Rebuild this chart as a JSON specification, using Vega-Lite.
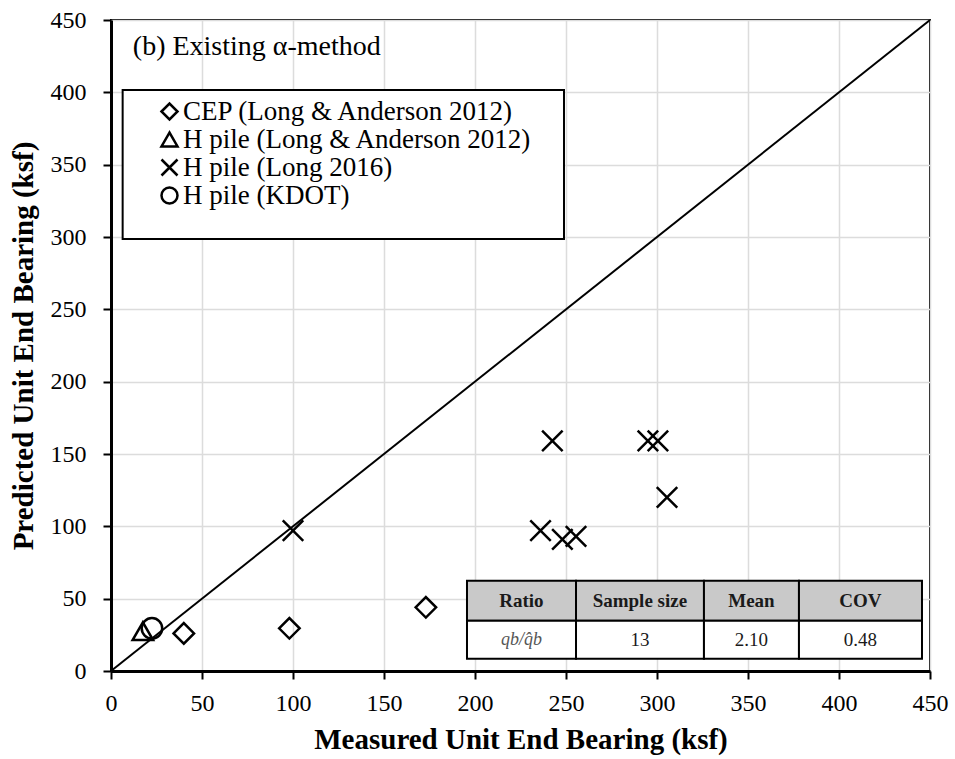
{
  "$schema": "https://vega.github.io/schema/vega-lite/v6.json",
  "width": 819,
  "height": 651,
  "autosize": {"type": "none"},
  "padding": {"left": 111, "top": 20, "right": 25, "bottom": 88},
  "background": "white",
  "config": {
    "view": {"stroke": "black", "strokeWidth": 2},
    "font": "Liberation Serif",
    "axis": {
      "grid": true,
      "gridColor": "#dcdcdc",
      "gridWidth": 1.5,
      "domainColor": "black",
      "domainWidth": 3,
      "tickColor": "black",
      "tickWidth": 2,
      "tickSize": 8,
      "labelFont": "Liberation Serif",
      "labelFontSize": 24,
      "labelColor": "black",
      "labelFlush": false,
      "labelOverlap": false,
      "titleFont": "Liberation Serif",
      "titleFontSize": 29,
      "titleFontWeight": "bold",
      "titleColor": "black"
    },
    "axisX": {"labelPadding": 12, "titlePadding": 10},
    "axisY": {"labelPadding": 17, "titlePadding": 12},
    "legend": {
      "orient": "none",
      "legendX": 45,
      "legendY": 78,
      "padding": 0,
      "labelFont": "Liberation Serif",
      "labelFontSize": 27,
      "labelColor": "black",
      "labelOffset": 0,
      "labelLimit": 600,
      "rowPadding": 0,
      "symbolSize": 256,
      "symbolStrokeWidth": 2.5,
      "symbolStrokeColor": "black",
      "symbolFillColor": "transparent"
    }
  },
  "datasets": {
    "points": [
      {"source": "CEP (Long & Anderson 2012)", "measured": 40, "predicted": 26},
      {"source": "CEP (Long & Anderson 2012)", "measured": 98, "predicted": 29.5},
      {"source": "CEP (Long & Anderson 2012)", "measured": 173, "predicted": 44},
      {"source": "H pile (Long & Anderson 2012)", "measured": 17.5, "predicted": 27.5},
      {"source": "H pile (Long 2016)", "measured": 100, "predicted": 97},
      {"source": "H pile (Long 2016)", "measured": 236, "predicted": 97},
      {"source": "H pile (Long 2016)", "measured": 242.5, "predicted": 159},
      {"source": "H pile (Long 2016)", "measured": 248, "predicted": 91},
      {"source": "H pile (Long 2016)", "measured": 255.5, "predicted": 93},
      {"source": "H pile (Long 2016)", "measured": 295, "predicted": 159},
      {"source": "H pile (Long 2016)", "measured": 300.5, "predicted": 159},
      {"source": "H pile (Long 2016)", "measured": 305.5, "predicted": 120},
      {"source": "H pile (KDOT)", "measured": 22.5, "predicted": 29.5}
    ],
    "diag": [{"x": 0, "y": 0}, {"x": 450, "y": 450}],
    "cells": [
      {"section": "header", "label": "Ratio", "x0": 195.6, "x1": 255.5, "y0": 62.4, "y1": 34.8, "xm": 225.5, "ym": 48.6},
      {"section": "header", "label": "Sample size", "x0": 255.5, "x1": 325.8, "y0": 62.4, "y1": 34.8, "xm": 290.6, "ym": 48.6},
      {"section": "header", "label": "Mean", "x0": 325.8, "x1": 378.0, "y0": 62.4, "y1": 34.8, "xm": 351.9, "ym": 48.6},
      {"section": "header", "label": "COV", "x0": 378.0, "x1": 445.6, "y0": 62.4, "y1": 34.8, "xm": 411.8, "ym": 48.6},
      {"section": "ratio", "label": "qb/q̂b", "x0": 195.6, "x1": 255.5, "y0": 34.8, "y1": 8.5, "xm": 225.5, "ym": 21.6},
      {"section": "body", "label": "13", "x0": 255.5, "x1": 325.8, "y0": 34.8, "y1": 8.5, "xm": 290.6, "ym": 21.6},
      {"section": "body", "label": "2.10", "x0": 325.8, "x1": 378.0, "y0": 34.8, "y1": 8.5, "xm": 351.9, "ym": 21.6},
      {"section": "body", "label": "0.48", "x0": 378.0, "x1": 445.6, "y0": 34.8, "y1": 8.5, "xm": 411.8, "ym": 21.6}
    ]
  },
  "layer": [
    {
      "data": {"name": "diag"},
      "mark": {"type": "line", "color": "black", "strokeWidth": 2},
      "encoding": {
        "x": {"field": "x", "type": "quantitative", "title": "Measured Unit End Bearing (ksf)",
              "scale": {"domain": [0, 450], "nice": false},
              "axis": {"values": [0, 50, 100, 150, 200, 250, 300, 350, 400, 450]}},
        "y": {"field": "y", "type": "quantitative", "title": "Predicted Unit End Bearing (ksf)",
              "scale": {"domain": [0, 450], "nice": false},
              "axis": {"values": [0, 50, 100, 150, 200, 250, 300, 350, 400, 450]}}
      }
    },
    {
      "data": {"name": "points"},
      "mark": {"type": "point", "filled": false, "color": "black", "strokeWidth": 2.5, "size": 420, "opacity": 1},
      "encoding": {
        "x": {"field": "measured", "type": "quantitative", "title": "Measured Unit End Bearing (ksf)"},
        "y": {"field": "predicted", "type": "quantitative", "title": "Predicted Unit End Bearing (ksf)"},
        "shape": {"field": "source", "type": "nominal", "title": null,
                  "scale": {"domain": ["CEP (Long & Anderson 2012)", "H pile (Long & Anderson 2012)", "H pile (Long 2016)", "H pile (KDOT)"],
                            "range": ["diamond", "triangle-up", "M-1,-1L1,1M-1,1L1,-1", "circle"]}}
      }
    },
    {
      "data": {"values": [{}]},
      "mark": {"type": "rect", "fill": "white", "stroke": "black", "strokeWidth": 2},
      "encoding": {
        "x": {"datum": 6.4, "type": "quantitative", "title": "Measured Unit End Bearing (ksf)"},
        "x2": {"datum": 248.9},
        "y": {"datum": 401.6, "type": "quantitative", "title": "Predicted Unit End Bearing (ksf)"},
        "y2": {"datum": 298.6}
      }
    },
    {
      "data": {"name": "cells"},
      "mark": {"type": "rect", "stroke": "black", "strokeWidth": 2},
      "encoding": {
        "x": {"field": "x0", "type": "quantitative", "title": "Measured Unit End Bearing (ksf)"},
        "x2": {"field": "x1"},
        "y": {"field": "y0", "type": "quantitative", "title": "Predicted Unit End Bearing (ksf)"},
        "y2": {"field": "y1"},
        "fill": {"field": "section", "type": "nominal", "legend": null,
                 "scale": {"domain": ["header", "ratio", "body"], "range": ["#c9c9c9", "white", "white"]}}
      }
    },
    {
      "data": {"name": "cells"},
      "transform": [{"filter": "datum.section === 'header'"}],
      "mark": {"type": "text", "font": "Liberation Serif", "fontSize": 19, "fontWeight": "bold", "color": "#1a1a1a", "align": "center", "baseline": "middle"},
      "encoding": {
        "x": {"field": "xm", "type": "quantitative", "title": "Measured Unit End Bearing (ksf)"},
        "y": {"field": "ym", "type": "quantitative", "title": "Predicted Unit End Bearing (ksf)"},
        "text": {"field": "label"}
      }
    },
    {
      "data": {"name": "cells"},
      "transform": [{"filter": "datum.section === 'body'"}],
      "mark": {"type": "text", "font": "Liberation Serif", "fontSize": 19, "color": "#1a1a1a", "align": "center", "baseline": "middle"},
      "encoding": {
        "x": {"field": "xm", "type": "quantitative", "title": "Measured Unit End Bearing (ksf)"},
        "y": {"field": "ym", "type": "quantitative", "title": "Predicted Unit End Bearing (ksf)"},
        "text": {"field": "label"}
      }
    },
    {
      "data": {"name": "cells"},
      "transform": [{"filter": "datum.section === 'ratio'"}],
      "mark": {"type": "text", "font": "Liberation Serif", "fontSize": 18, "fontStyle": "italic", "color": "#555555", "align": "center", "baseline": "middle"},
      "encoding": {
        "x": {"field": "xm", "type": "quantitative", "title": "Measured Unit End Bearing (ksf)"},
        "y": {"field": "ym", "type": "quantitative", "title": "Predicted Unit End Bearing (ksf)"},
        "text": {"field": "label"}
      }
    },
    {
      "data": {"values": [{}]},
      "mark": {"type": "text", "text": "(b) Existing α-method", "font": "Liberation Serif", "fontSize": 28, "color": "black", "align": "left", "baseline": "middle"},
      "encoding": {
        "x": {"datum": 12, "type": "quantitative", "title": "Measured Unit End Bearing (ksf)"},
        "y": {"datum": 431.5, "type": "quantitative", "title": "Predicted Unit End Bearing (ksf)"}
      }
    }
  ]
}
